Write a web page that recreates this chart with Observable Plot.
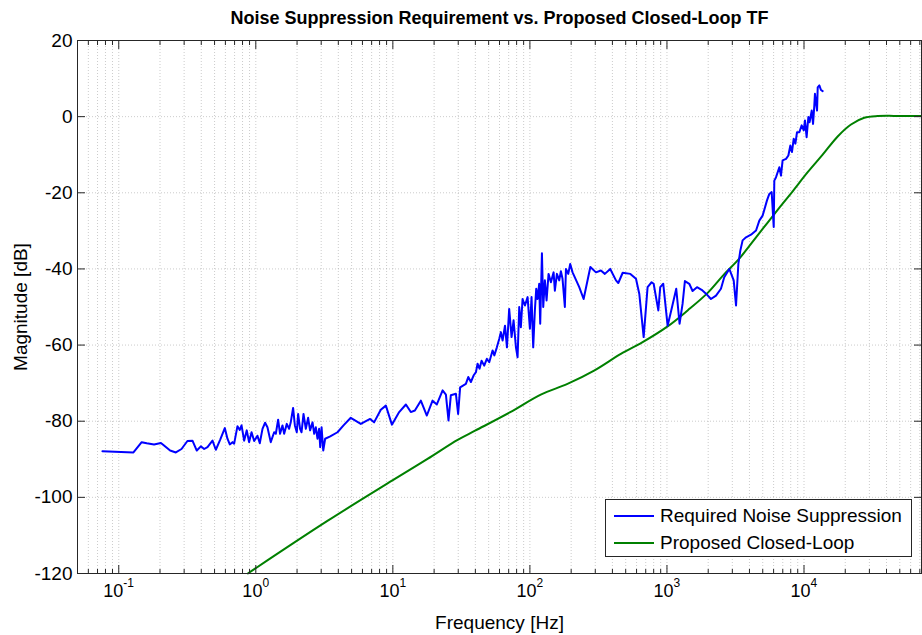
<!DOCTYPE html>
<html><head><meta charset="utf-8">
<script src="https://cdn.jsdelivr.net/npm/d3@7"></script>
<script src="https://cdn.jsdelivr.net/npm/@observablehq/plot@0.6"></script>
<style>
body{margin:0;background:#fff;font-family:"Liberation Sans",Arial,Helvetica,sans-serif;}
#wrap{position:relative;width:922px;height:635px;}
#legend{position:absolute;left:605px;top:499px;width:305px;height:56px;border:1px solid #262626;background:#fff;font-size:19px;color:#000;}
.row{position:absolute;left:8px;height:22px;display:flex;align-items:center;white-space:nowrap;}
.sw{width:40px;height:0;border-top:2px solid;margin-right:6px;}
</style></head><body><div id="wrap"></div>
<script>
const title = "Noise Suppression Requirement vs. Proposed Closed-Loop TF";
const xLabel = "Frequency [Hz]";
const yLabel = "Magnitude [dB]";
const seriesNames = ["Required Noise Suppression", "Proposed Closed-Loop"];
const seriesColors = ["#0000ff", "#008000"];

const blueFreq = [0.0760,0.128,0.147,0.160,0.181,0.203,0.214,0.237,0.261,0.287,0.317,0.345,0.371,0.397,0.420,0.444,0.483,0.511,0.549,0.594,0.621,0.646,0.676,0.695,0.735,0.764,0.787,0.822,0.859,0.893,0.931,0.973,1.028,1.069,1.119,1.169,1.216,1.285,1.361,1.400,1.455,1.503,1.566,1.610,1.683,1.750,1.799,1.871,1.928,1.991,2.036,2.104,2.157,2.229,2.317,2.409,2.489,2.594,2.667,2.742,2.818,2.897,2.951,3.020,3.105,3.206,3.491,3.945,4.365,4.932,5.834,6.823,7.295,8.166,8.892,9.840,11.12,12.45,13.52,14.48,16.00,17.70,19.48,20.94,23.07,24.38,25.47,26.49,28.84,29.94,30.97,
34.1,35.5,37.1,38.8,40.4,41.5,42.9,44.4,46.4,48.5,50.5,53.4,55.0,57.4,59.7,61.4,63.2,65.8,68.0,70.6,73.5,76.0,79.1,81.3,83.6,85.9,88.4,92.0,96.2,100,102.8,105.7,108.7,111.2,113.7,116.9,118.9,122.4,125.1,128.6,132.3,136.8,142.3,148.9,152.1,157.4,163.7,168.3,173.0,179.9,183.2,190.5,196.8,204.8,229.1,246.6,276.1,303.4,329.6,352.4,385.5,424.6,441.6,475.3,540.8,594.3,628.1,676.1,722.3,772.7,799.8,864.9,893.4,939.8,1011,1081,1169,1236,1300,1352,1455,1538,1656,1791,1928,2094,2280,2477,2618,2851,3069,3192,
3319,3430,3565,3776,4103,4467,4721,4989,5370,5585,5808,6012,6072,6252,6607,6792,6982,7396,7691,7943,8166,8414,8650,8892,9247,9616,9954,10160,10450,10760,10990,11380,11640,11890,12020,12450,12590,12940,13300,13680];
const blueDb = [-87.9,-88.2,-85.5,-85.8,-86.1,-85.7,-86.4,-87.7,-88.2,-87.3,-85.2,-85.1,-87.7,-86.6,-87.3,-86.8,-85.1,-87.5,-84.9,-81.8,-84.6,-86.1,-85.5,-85.9,-81.3,-82.3,-81.1,-85.1,-82.4,-85.5,-82.9,-85.2,-83.8,-85.8,-82.0,-80.4,-81.6,-85.5,-82.9,-83.3,-79.6,-83.3,-81.1,-83.3,-80.7,-82.0,-80.3,-76.5,-81.1,-82.9,-78.1,-82.0,-82.9,-78.1,-82.0,-79.1,-82.4,-80.3,-83.3,-81.6,-84.6,-82.0,-86.8,-81.6,-87.7,-84.6,-84.0,-82.9,-81.1,-79.1,-80.7,-79.4,-80.3,-77.0,-75.9,-80.9,-77.6,-75.6,-77.6,-77.2,-74.6,-78.5,-74.6,-75.6,-71.9,-73.0,-79.8,-73.2,-72.8,-78.1,-71.1,
-70.2,-68.4,-69.7,-68.0,-67.1,-64.9,-66.2,-64.1,-65.4,-63.6,-64.5,-61.4,-62.7,-60.6,-58.4,-56.6,-58.8,-54.9,-60.6,-50.5,-57.9,-53.5,-60.6,-63.2,-50.0,-55.3,-47.9,-49.6,-47.4,-55.7,-47.4,-60.6,-50.9,-45.2,-47.9,-43.9,-54.4,-35.9,-50.0,-43.0,-48.3,-41.3,-43.5,-40.9,-45.7,-41.3,-43.0,-40.6,-42.6,-50.0,-40.0,-41.3,-38.7,-40.9,-44.8,-47.9,-39.5,-40.9,-40.4,-41.3,-40.0,-43.0,-43.7,-41.0,-41.3,-42.6,-46.5,-57.9,-44.8,-43.5,-43.9,-50.9,-44.8,-43.9,-54.9,-50.5,-45.2,-54.4,-49.2,-43.2,-43.9,-45.8,-44.8,-45.5,-46.5,-47.9,-47.0,-45.2,-42.2,-40.0,-43.0,-49.6,
-38.7,-35.2,-32.5,-31.7,-31.0,-29.9,-27.3,-26.0,-22.0,-20.3,-19.8,-29.0,-16.8,-15.9,-13.3,-15.5,-11.5,-11.1,-10.2,-7.6,-9.3,-5.8,-7.1,-4.1,-4.1,-2.3,-3.6,-1.0,-5.4,-0.1,-1.45,1.6,-1.9,2.9,6.0,1.6,7.7,8.2,7.0,6.7];

const greenFreq = [0.875,3.33,10.0,17.9,29.7,39.8,71.3,120,188,294,461,660,1011,1416,1982,2600,3370,4467,6072,8268,10640,13680,17610,22030,27540,34510,45600,72000];
const greenDb = [-120,-106.2,-95.5,-89.9,-84.9,-82.5,-77.7,-73.0,-70.2,-66.7,-62.3,-59.3,-55.1,-50.9,-46.3,-41.5,-37.3,-31.7,-25.6,-19.6,-14.6,-10.0,-5.2,-2.06,-0.3,0.15,0.2,0.15];

const xMajorTicks = [0.1, 1, 10, 100, 1000, 10000];
const xTickExponents = ["-1", "0", "1", "2", "3", "4"];
const yTicks = [20, 0, -20, -40, -60, -80, -100, -120];
const xDomain = [0.05, 72000];
const yDomain = [-120, 20];
const xMinorTicks = [0.01, 0.1, 1, 10, 100, 1000, 10000]
  .flatMap(d => [2,3,4,5,6,7,8,9].map(m => +(m * d).toPrecision(3)))
  .filter(v => v >= xDomain[0] && v <= xDomain[1]);
const xAllTicks = [...xMajorTicks, ...xMinorTicks];

const blue = blueFreq.map((f, i) => ({f, db: blueDb[i]}));
const green = greenFreq.map((f, i) => ({f, db: greenDb[i]}));
const tickLabels = xMajorTicks.map((v, i) => ({v, e: xTickExponents[i]}));
const negLabels = tickLabels.filter(d => d.e.startsWith("-"));
const posLabels = tickLabels.filter(d => !d.e.startsWith("-"));
const axisColor = "#262626";
const font = "Liberation Sans, Arial, sans-serif";

const chart = Plot.plot({
  width: 922, height: 635,
  marginLeft: 77, marginRight: 1, marginTop: 40, marginBottom: 62,
  style: {fontFamily: font, background: "#fff", color: "#000"},
  x: {type: "log", domain: xDomain},
  y: {domain: yDomain},
  marks: [
    Plot.gridX(xAllTicks, {stroke: "#999", strokeOpacity: 0.5, strokeDasharray: "1,2"}),
    Plot.gridY(yTicks, {stroke: "#999", strokeOpacity: 0.5, strokeDasharray: "1,2"}),
    Plot.line(green, {x: "f", y: "db", stroke: seriesColors[1], strokeWidth: 2, curve: "catmull-rom"}),
    Plot.line(blue, {x: "f", y: "db", stroke: seriesColors[0], strokeWidth: 2}),
    Plot.frame({stroke: axisColor}),
    Plot.axisX(xMajorTicks, {anchor: "bottom", tickSize: -8, fill: "none", label: null, stroke: axisColor}),
    Plot.axisX(xMinorTicks, {anchor: "bottom", tickSize: -4, fill: "none", label: null, stroke: axisColor}),
    Plot.axisX(xMajorTicks, {anchor: "top", tickSize: -8, fill: "none", label: null, stroke: axisColor}),
    Plot.axisX(xMinorTicks, {anchor: "top", tickSize: -4, fill: "none", label: null, stroke: axisColor}),
    Plot.axisY(yTicks, {anchor: "left", tickSize: -8, fill: "none", label: null, stroke: axisColor}),
    Plot.axisY(yTicks, {anchor: "right", tickSize: -8, fill: "none", label: null, stroke: axisColor}),
    // y tick labels
    Plot.text(yTicks, {y: d => d, text: d => String(d), frameAnchor: "left", dx: -5, textAnchor: "end", lineAnchor: "middle", fontSize: 19, fill: "#000"}),
    // x tick labels 10^n
    Plot.text(negLabels, {x: "v", text: () => "10", frameAnchor: "bottom", dy: 18, dx: 4.6, textAnchor: "end", lineAnchor: "middle", fontSize: 18, fill: "#000"}),
    Plot.text(negLabels, {x: "v", text: "e", frameAnchor: "bottom", dy: 10, dx: 4.6, textAnchor: "start", lineAnchor: "middle", fontSize: 12, fill: "#000"}),
    Plot.text(posLabels, {x: "v", text: () => "10", frameAnchor: "bottom", dy: 18, dx: 6.6, textAnchor: "end", lineAnchor: "middle", fontSize: 18, fill: "#000"}),
    Plot.text(posLabels, {x: "v", text: "e", frameAnchor: "bottom", dy: 10, dx: 6.6, textAnchor: "start", lineAnchor: "middle", fontSize: 12, fill: "#000"}),
    // axis labels and title
    Plot.text([xLabel], {text: d => d, frameAnchor: "bottom", dy: 49, textAnchor: "middle", lineAnchor: "middle", fontSize: 19, fill: "#000"}),
    Plot.text([yLabel], {text: d => d, frameAnchor: "left", dx: -57, rotate: -90, textAnchor: "middle", lineAnchor: "middle", fontSize: 19, fill: "#000"}),
    Plot.text([title], {text: d => d, frameAnchor: "top", dy: -22, textAnchor: "middle", lineAnchor: "middle", fontSize: 18, fontWeight: "bold", fill: "#000"})
  ]
});
const wrap = document.getElementById("wrap");
wrap.appendChild(chart);

const legend = document.createElement("div");
legend.id = "legend";
seriesNames.forEach((name, i) => {
  const row = document.createElement("div");
  row.className = "row";
  row.style.top = (5 + i * 27) + "px";
  const sw = document.createElement("span");
  sw.className = "sw";
  sw.style.borderTopColor = seriesColors[i];
  const t = document.createElement("span");
  t.textContent = name;
  row.appendChild(sw); row.appendChild(t);
  legend.appendChild(row);
});
wrap.appendChild(legend);
</script>
</body></html>
